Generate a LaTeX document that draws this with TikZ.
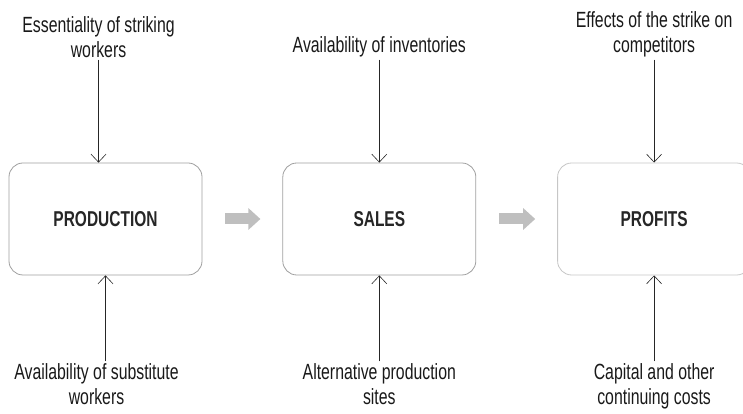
\documentclass[tikz,border=0pt]{standalone}
\usepackage{fontspec}
\setmainfont{Liberation Sans}[FakeStretch=0.72]
\usepackage{tikz}
\usetikzlibrary{arrows.meta,positioning}

\begin{document}
\begin{tikzpicture}[
  x=1pt, y=1pt,
  node distance = 80pt,
  stage/.style  = {draw=gray!75, line width=0.8pt, rounded corners=14pt,
                   text=black!85, minimum width=193pt, minimum height=112pt,
                   font=\bfseries\fontsize{21.5}{24}\selectfont},
  factor/.style = {align=center, inner sep=2pt, text=black!90,
                   font=\fontsize{22}{25}\selectfont},
  arr/.style    = {-{Straight Barb[length=8pt, width=15pt]}, semithick, black!85},
  flow/.style   = {-{Triangle[length=12pt, width=21pt]}, line width=11pt,
                   draw=gray!50, shorten <=23pt, shorten >=22pt},
]
\useasboundingbox (0,0) rectangle (743,414);

%% ─── stages ───────────────────────────────────────────────────────────────
\node[stage] (prod) at (105.5,195) {PRODUCTION};
\node[stage, right=of prod]  (sales)  {SALES};
\node[stage, right=81pt of sales, draw=gray!45] (profit) {PROFITS};

%% ─── factors above / below ────────────────────────────────────────────────
\node[factor, above=103pt of prod, xshift=-7pt] (essent)
  {Essentiality of striking\\workers};
\node[factor, above=103pt of sales]  (invent) {Availability of inventories};
\node[factor, above=103pt of profit] (compet)
  {Effects of the strike on\\competitors};

\node[factor, below=86pt of prod, xshift=-9pt] (subst)
  {Availability of substitute\\workers};
\node[factor, below=86pt of sales]  (sites)
  {Alternative production\\sites};
\node[factor, below=86pt of profit] (costs)
  {Capital and other\\continuing costs};

%% ─── arrows ───────────────────────────────────────────────────────────────
\foreach \a/\b in {essent/prod, invent/sales, compet/profit}
  \draw[arr] (\a.south) -- (\a.south |- \b.north);
\draw[arr] ([xshift=9pt]subst.north) -- ([xshift=9pt]subst.north |- prod.south);
\foreach \a/\b in {sites/sales, costs/profit}
  \draw[arr] (\a.north) -- (\a.north |- \b.south);

\draw[flow] (prod)  -- (sales);
\draw[flow] (sales) -- (profit);

\end{tikzpicture}
\end{document}
